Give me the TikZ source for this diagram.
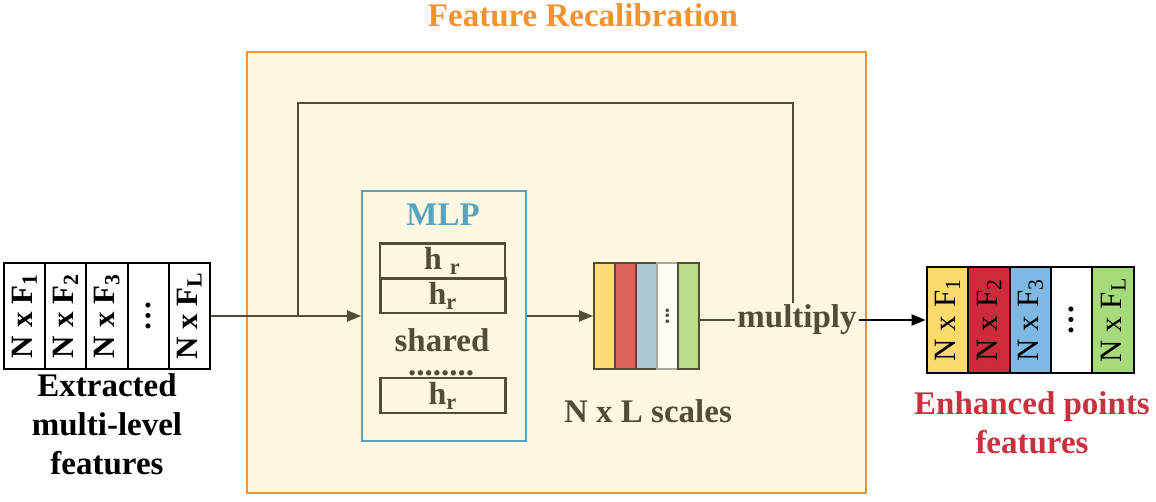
\documentclass[tikz,border=0pt]{standalone}
\usepackage{fontspec}
\setmainfont{Liberation Serif}
\usetikzlibrary{arrows.meta}

\definecolor{frameOrange}{RGB}{242,146,48}
\definecolor{bgCream}{RGB}{254,247,226}
\definecolor{mlpBlue}{RGB}{90,163,190}
\definecolor{inkDark}{RGB}{82,76,56}
\definecolor{enhRed}{RGB}{200,50,62}
\definecolor{sYellow}{RGB}{253,220,122}
\definecolor{sRed}{RGB}{217,104,91}
\definecolor{sBlue}{RGB}{168,200,210}
\definecolor{sGreen}{RGB}{190,221,138}
\definecolor{fYellow}{RGB}{253,218,110}
\definecolor{fRed}{RGB}{203,43,58}
\definecolor{fBlue}{RGB}{125,185,227}
\definecolor{fGreen}{RGB}{166,218,122}

\tikzset{
  lbl/.style={font=\bfseries\fontsize{16.5}{19.5}\selectfont, text=inkDark, align=center, inner sep=1pt},
  col/.style={draw, rotate=90, minimum width=52.5pt, minimum height=20.6pt, inner sep=0pt, line width=1pt, font=\fontsize{15.5}{15.5}\selectfont},
  hbox/.style={draw=inkDark, line width=1.2pt, minimum width=62.5pt, minimum height=17.5pt, inner sep=0pt, font=\bfseries\fontsize{16}{16}\selectfont, text=inkDark},
  scl/.style={line width=1pt, minimum width=10.5pt, minimum height=52.5pt, inner sep=0pt},
  conn/.style={draw=inkDark, line width=1pt},
  arr/.style={conn, -{Triangle[length=7pt,width=5.5pt]}}
}

\begin{document}
\begin{tikzpicture}[x=0.5pt,y=-0.5pt]
        \useasboundingbox (0,0) rectangle (1156,502);

        % Define the recalibration frame
        \node[draw=frameOrange, fill=bgCream, line width=1.3pt, minimum width=309.5pt, minimum height=220.5pt] (recal) at (556.5,272.5) {};
        \node[lbl, text=frameOrange] (title) at (583,15) {Feature Recalibration};

        % Define the input features
        \foreach \lab [count=\i] in {N x F\textsubscript{1}, N x F\textsubscript{2}, N x F\textsubscript{3}, \ldots, N x F\textsubscript{L}}
            \node[col, font=\bfseries\fontsize{15.5}{15.5}\selectfont] (in\i) at ({4+41.2*(\i-0.5)},316) {\lab};
        \node[lbl, text=black] (inlbl) at (107,424) {Extracted\\multi-level\\features};

        % Define the MLP
        \node[draw=mlpBlue, line width=0.9pt, minimum width=82pt, minimum height=125pt] (mlp) at (444,316) {};
        \node[lbl, text=mlpBlue] (mlptitle) at (443,215) {MLP};
        \node[hbox] (h1) at (442.5,261) {h \textsubscript{r}};
        \node[hbox] (h2) at (443,295.5) {h\textsubscript{r}};
        \node[lbl] (shared) at (442,340) {shared};
        \node[lbl, anchor=base, inner sep=0pt] (dots) at (441,375) {\smash{........}};
        \node[hbox] (h3) at (443,395.5) {h\textsubscript{r}};

        % Define the scales
        \foreach \fc/\dc/\lab [count=\i] in {sYellow/inkDark/, sRed/inkDark/, sBlue/inkDark/, white!60!bgCream/inkDark!50/\rotatebox{90}{\textbf{...}}, sGreen/inkDark/}
            \node[scl, fill=\fc, draw=\dc, font=\fontsize{11}{11}\selectfont, text=inkDark] (s\i) at ({594+21*(\i-0.5)},316) {\lab};
        \node[lbl] (scllbl) at (648,411) {N x L scales};
        \node[lbl] (mult) at (797,320) {multiply};

        % Define the output features
        \foreach \lab/\fc [count=\i] in {N x F\textsubscript{1}/fYellow, N x F\textsubscript{2}/fRed, N x F\textsubscript{3}/fBlue, \textbf{\ldots}/white, N x F\textsubscript{L}/fGreen}
            \node[col, fill=\fc, minimum width=53pt, minimum height=21pt] (out\i) at ({927+41.4*(\i-0.5)},320) {\lab};
        \node[lbl, text=enhRed] (outlbl) at (1032,423) {Enhanced points\\features};

        % Define the edges
        \coordinate (junc) at (298,316);
        \coordinate (top) at (793,103);
        \draw[conn] (in5.south) -- (junc);
        \draw[arr] (junc) -- (mlp.west);
        \draw[conn] (junc) |- (top) -- (top |- mult.north);
        \draw[arr] (mlp.east) -- (s1.west);
        \draw[conn] (mult.west -| s5.east) -- (mult.west);
        \draw[arr, draw=black] (mult.east) -- (out1.north);
    \end{tikzpicture}
\end{document}
